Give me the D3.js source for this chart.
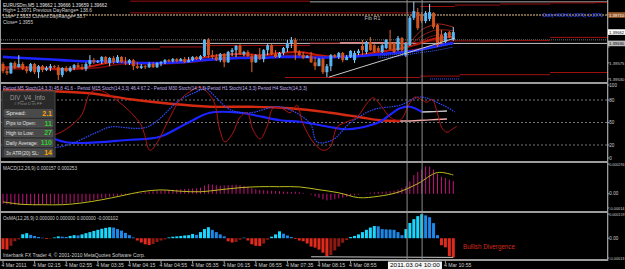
<!DOCTYPE html>
<html>
<head>
<meta charset="utf-8">
<script src="https://cdn.jsdelivr.net/npm/d3@7"></script>
<style>
  html, body { margin: 0; background: #000; overflow: hidden; }
  svg { display: block; }
</style>
</head>
<body>
<div id="chart"></div>
<script>
// ---- price data: pips above 1.3950, one bar every 5 minutes from 01:35 ----
const barOpen = [7.2,5.2,4.6,7.5,6.3,7.2,5.8,5.2,7.2,4.9, 6.6,5.5,6.1,6.6,6.3,4.1,6.1,5.2,6.1,6.9,
  6.3,5.8,7.2,8.3,7.7,8.0,9.2,7.5,8.9,7.7, 9.2,7.7,7.5,8.3,6.6,6.1,6.6,6.3,7.2,6.3,
  7.5,7.7,8.3,8.0,8.6,8.0,8.6,7.7,8.3,9.2, 8.6,9.4,14.0,9.7,9.2,8.3,10.0,7.7,10.6,11.1,
  12.3,10.0,10.6,9.4,7.7,9.7,8.6,11.1,12.5,10.0, 9.2,10.3,11.7,13.1,14.0,10.6,9.7,8.9,9.4,7.7,
  6.6,8.6,4.9,6.6,9.7,9.2,10.3,8.3,9.2,8.3, 10.3,12.3,10.6,13.4,12.5,11.7,10.6,11.7,13.4,13.1,
  11.1,14.5,9.7,12.5,20.2,21.8,21.0,19.3,19.9,21.6, 18.2,15.4,13.4,16.2,14.0];
const barHigh = [7.7,6.1,7.7,8.0,9.7,7.7,6.6,7.5,7.5,6.9, 6.9,6.6,7.2,6.9,6.9,6.3,6.6,6.6,7.2,7.5,
  7.2,7.7,9.7,8.9,8.3,9.4,9.4,9.2,9.4,9.7, 9.4,9.2,8.6,8.6,7.7,7.2,6.9,7.7,7.7,7.7,
  8.0,8.6,8.6,8.9,8.9,8.9,9.2,9.2,9.4,9.4, 9.7,14.2,14.5,11.1,10.0,10.3,10.3,10.9,11.7,12.5,
  12.8,10.9,11.1,10.0,10.0,11.7,11.4,12.8,12.8,11.1, 10.6,12.0,14.0,14.8,14.5,11.1,10.6,9.7,10.6,9.2,
  8.9,8.9,7.2,10.0,10.0,10.6,10.6,9.7,11.1,10.9, 11.4,14.0,13.7,14.8,12.8,12.3,12.8,14.2,16.8,13.4,
  15.1,14.8,13.4,20.7,24.7,23.0,21.8,22.1,24.1,21.8, 18.5,16.8,16.2,16.5,17.6];
const barLow = [4.6,4.1,4.4,5.8,6.3,5.5,4.6,4.9,4.4,3.2, 4.9,5.2,5.2,6.1,2.7,3.5,4.9,4.9,5.5,6.1,
  5.5,5.2,6.6,7.2,7.5,7.2,7.2,6.6,7.2,7.5, 7.5,6.9,6.9,5.5,5.8,5.8,5.8,6.1,6.1,6.1,
  6.6,7.2,7.7,7.7,7.7,8.0,7.5,7.7,8.0,8.3, 8.3,9.2,8.9,8.6,8.0,7.7,6.3,7.5,9.4,9.2,
  9.7,9.4,9.2,4.9,7.5,8.3,7.7,9.7,9.7,8.9, 8.9,9.7,10.6,11.7,8.3,9.4,8.6,8.9,7.5,5.5,
  6.6,4.4,3.5,5.2,8.9,8.6,7.7,8.3,8.9,7.5, 9.7,9.7,10.0,10.9,10.3,10.6,10.3,11.4,11.1,10.3,
  10.9,10.6,9.2,12.3,19.6,16.8,18.7,18.7,19.3,17.1, 12.0,12.8,13.1,14.5,13.7];
const barClose = [5.2,4.6,7.5,6.3,7.2,5.8,5.2,7.2,4.9,6.6, 5.5,6.1,6.6,6.3,4.1,6.1,5.2,6.1,6.9,6.3,
  5.8,7.2,8.3,7.7,8.0,9.2,7.5,8.9,7.7,9.2, 7.7,7.5,8.3,6.6,6.1,6.6,6.3,7.2,6.3,7.5,
  7.7,8.3,8.0,8.6,8.0,8.6,7.7,8.3,9.2,8.6, 9.4,14.0,9.7,9.2,8.3,10.0,7.7,10.6,11.1,12.3,
  10.0,10.6,9.4,7.7,9.7,8.6,11.1,12.5,10.0,9.2, 10.3,11.7,13.1,14.0,10.6,9.7,8.9,9.4,7.7,6.6,
  8.6,4.9,6.6,9.7,9.2,10.3,8.3,9.2,10.9,10.3, 10.9,11.1,13.4,11.1,10.6,10.9,12.5,14.0,11.4,10.6,
  14.5,11.1,13.1,20.2,22.1,17.3,19.3,21.6,21.8,17.6, 12.5,13.4,15.9,14.8,16.2];

const priceTicks = [21.0, 16.5, 12.0, 7.5, 3.0];
const dailyHigh = 21.0;
const bidLevel = 16.2;
const lineLevel = 13.0;

// moving averages on the price panel (sampled every 5 bars)
const maBars = [0,5,10,15,20,25,30,35,40,45,50,55,60,65,70,75,80,85,90,95,100,105,110,114];
const blueMa = [9.2,8.9,8.6,8.3,8.0,8.0,7.7,7.5,7.5,7.7,8.3,8.6,8.9,8.9,9.2,9.2,9.0,9.2,9.4,9.9,10.4,11.1,12.3,13.1];
const redMa = [6.3,6.3,6.1,5.8,6.1,7.2,8.0,7.5,7.5,8.0,8.9,9.7,10.0,9.7,10.3,10.6,9.7,9.2,9.7,10.6,11.4,12.8,14.5,14.8];
const redMaSlow = [5.8,5.8,5.8,5.5,5.8,6.3,7.2,7.2,7.2,7.5,8.0,8.9,9.2,9.4,9.7,9.7,9.4,9.2,9.4,10.0,10.6,11.4,12.5,13.1];
const fanBars = [102,104,106,108,110,112,114];
const redFanA = [12.3,14.5,16.8,17.9,18.5,18.2,17.6];
const redFanB = [12.0,13.4,15.1,16.2,16.8,16.8,16.5];
const redFanC = [11.7,12.5,13.7,14.8,15.4,15.6,15.6];
const blueFanBars = [95,100,105,110,114];
const blueFanA = [9.4,10.0,10.9,12.0,12.8];
const blueFanB = [8.9,9.4,10.3,11.1,12.0];

// pivot style step levels: edges in bars, one level per segment
const topRedEdges = [32.2, 77.7];            const topRedLevels = [24.9];
const topGrayEdges = [77.7, 153];            const topGrayLevels = [24.7];
const r1Edges = [32.2,105.6,114.4,125.8,138.5,149.9,153]; const r1Levels = [21.6,23.4,23.8,24.1,24.4,24.5];
const midEdges = [-1,39.7,51.1,77.7,85.3,100.5,105.6,125.8,138.5,153];
const midLevels = [11.4,12.0,12.4,13.1,13.2,13.2,13.7,13.8,14.7];
const salmonEdges = [85.3, 100.5];           const salmonLevels = [13.2];
const lowEdges = [71.4,105.6,115.7,138.5,153]; const lowLevels = [3.4,3.8,4.2,4.8];
const blueLowEdges = [108.1, 115.7];         const blueLowLevels = [3.0];
const dottedLevel = 14.0;
const trendBars = [82.5, 114.4];
const trendVals = [3.5, 14.5];
const fibBar = 91.5;

// stochastics
const stochM5Bars = [0,5.6,11.9,19.5,22,23.8,26.3,34.7,37.2,39,41.5,44.8,47.3,49.9,53.2,54.9,56.2,58.2,60,61.8,
  63.3,65.1,66.8,68.4,70.6,72.7,74.4,75.9,78.5,81,82.8,84.6,87.1,89.6,92.2,93.7,95.9,98,100.5,103,
  104.3,106.1,107.3,108.6,109.9,111.1,112.4,113.7,114.9];
const stochM5 = [43,56,33,57,89,93,89,49,13,23,49,80,91,97,80,40,24,36,57,63,
  40,28,44,69,69,63,73,49,24,13,17,44,51,57,76,83,71,57,53,76,
  84,80,77,81,64,43,37,41,45];
const stochM15Bars = [0,13.7,23.8,27.1,36.5,44.8,49.9,51.1,57.5,62.5,70.1,77.7,79.5,83.5,87.8,93.7,100.5,105.6,111.4,114.4];
const stochM15 = [27,17,37,44,44,80,93,96,67,63,71,49,24,27,49,67,73,84,73,64];
const stochM30Bars = [0,6.8,15.7,32.2,39.7,46.6,52.4,60,70.1,75.2,82.8,86.6,90.4,95.4,100.5,103,106.1];
const stochM30 = [55,43,24,27,31,49,63,63,53,51,44,41,43,51,69,71,64];
const stochH1Bars = [0,10.6,22,32.2,42.3,52.4,62.5,72.7,82.8,90.4,95.4,100.5];
const stochH1 = [93,92,89,81,75,71,71,69,63,57,53,52];
const stochH4Bars = [100.5,103,108,112.4];
const stochH4 = [52,52,53.5,54.7];
const stochGrayBars = [106.1,109,112.4];
const stochGray = [64,64.5,65.3];
const stochLevels = [80, 50, 20];
const stochTicks = [100, 80, 50, 20, 0];

// MACD (x 1e-6)
const macdHist = [-100,-105,-110,-108,-112,-110,-105,-108,-115,-112,-108,-105,-100,-98,-105,
  -100,-95,-92,-88,-85,-80,-75,-70,-60,-55,-45,
  -40,-30,-25,-20,-15,-12,-5,0,5,10,15,
  20,25,28,30,35,38,40,42,45,48,50,52,55,
  60,80,95,90,85,80,82,85,88,90,85,78,70,
  55,45,38,35,32,30,28,25,22,20,18,20,15,
  8,0,-10,-25,-40,-55,-65,-60,-52,-45,-38,-30,
  -22,-15,-8,0,5,10,15,18,20,22,25,30,
  40,55,75,120,185,215,240,270,268,240,200,168,155,138,125];
const macdSignalBars = [0,5,10,15,20,25,30,35,40,45,50,55,60,65,70,75,80,85,90,95,100,105,110,114];
const macdSignal = [-80,-105,-108,-108,-90,-59,-20,20,38,25,20,40,60,70,70,68,40,10,-38,-25,15,100,210,185];
const macdTicks = [294, 0, -140];

// OsMA (x 1e-6)
const osmaHist = [-72,-75,-50,-20,-8,26,33,22,15,8,
  3,-5,-3,5,12,10,8,15,20,18,
  25,33,40,48,55,62,68,72,70,60,
  50,35,20,5,-15,-28,-40,-45,-38,-25,
  -15,-8,5,10,12,15,18,20,28,22,
  40,60,72,55,40,25,12,-20,-28,-25,
  -10,3,-15,-40,-50,-52,-35,-10,10,25,
  45,30,18,8,-5,-15,-20,-35,-55,-62,
  -75,-95,-118,-110,-80,-55,-30,-12,8,15,
  25,40,55,70,80,78,60,58,57,55,
  40,20,60,100,125,145,158,150,138,99,
  20,-46,-60,-118,-125];
const osmaDivBars = [78, 114];
const osmaDivVals = [-122, -126];
const osmaTicks = [159, 0, -130];

// time axis
const timeBars = [0,8,16,24,32,40,48,56,64,72,80,88,112];
const timeText = ["4 Mar 2011","4 Mar 02:15","4 Mar 02:55","4 Mar 03:35","4 Mar 04:15","4 Mar 04:55",
  "4 Mar 05:35","4 Mar 06:15","4 Mar 06:55","4 Mar 07:35","4 Mar 08:15","4 Mar 08:55","4 Mar 10:55"];
const crossBar = 101;
const crossText = "2011.03.04 10:00";
const vlineBars = [102.3, 106.1];

// info panel
const infoLabels = ["Spread:", "Pips to Open:", "High to Low:", "Daily Average:", "3x ATR(20) SL:"];
const infoValues = ["2.1", "11", "27", "110", "14"];

// ---------------------------------------------------------------
const width = 625, height = 269;
const FONT = "'Liberation Sans', Arial, sans-serif";
const svg = d3.select("#chart").append("svg")
  .attr("width", width).attr("height", height);
svg.append("rect").attr("width", width).attr("height", height).attr("fill", "#000");

const x = d3.scaleLinear().domain([0, 153]).range([3, 607.35]);
const yPrice = d3.scaleLinear().domain([2.7, 21]).range([80, 15]);
const yStoch = d3.scaleLinear().domain([0, 100]).range([160, 85]);
const yMacd = d3.scaleLinear().domain([-170, 294]).range([211, 164]);
const yOsma = d3.scaleLinear().domain([-130, 159]).range([258, 214]);
const fmtPrice = p => (1.395 + p / 10000).toFixed(5);

const defs = svg.append("defs");
function clip(id, y0, y1) {
  defs.append("clipPath").attr("id", id).append("rect")
    .attr("x", 1).attr("y", y0).attr("width", 606).attr("height", y1 - y0);
}
clip("clipMain", 0, 82);
clip("clipStoch", 84, 161);
clip("clipMacd", 163, 211);
clip("clipOsma", 213, 259);

function label(g, px, py, str, o = {}) {
  const t = g.append("text").attr("x", px).attr("y", py).text(str)
    .attr("font-family", FONT).attr("font-size", o.size || 5)
    .attr("fill", o.color || "#cfcfcf");
  if (o.len) t.attr("textLength", o.len).attr("lengthAdjust", "spacingAndGlyphs");
  if (o.bold) t.attr("font-weight", "bold");
  return t;
}

function steps(g, edges, levels, color, w = 1, dash = null) {
  const segs = levels.map((v, k) => ({ a: edges[k], b: edges[k + 1], v }));
  g.append("g").selectAll("line").data(segs).join("line")
    .attr("x1", d => x(d.a)).attr("x2", d => x(d.b))
    .attr("y1", d => yPrice(d.v)).attr("y2", d => yPrice(d.v))
    .attr("stroke", color).attr("stroke-width", w)
    .attr("stroke-dasharray", dash);
}

function series(g, bars, vals, yScale, color, w, dash = null, curve = d3.curveMonotoneX) {
  const line = d3.line().x(d => x(d[0])).y(d => yScale(d[1])).curve(curve);
  g.append("path").datum(bars.map((b, k) => [b, vals[k]]))
    .attr("d", line).attr("fill", "none")
    .attr("stroke", color).attr("stroke-width", w)
    .attr("stroke-dasharray", dash);
}

// ---------------- main price panel ----------------
const main = svg.append("g").attr("clip-path", "url(#clipMain)");
steps(main, [-1, 153], [dailyHigh], "#76654a", 2, "2,1");
steps(main, topRedEdges, topRedLevels, "#9a0f0f");
steps(main, topGrayEdges, topGrayLevels, "#a8a8a8");
steps(main, r1Edges, r1Levels, "#9a1010");
steps(main, [-1, 153], [dottedLevel], "#7c7c7c", 1, "1,1");
steps(main, [-1, 153], [lineLevel], "#c4c4c4");
steps(main, midEdges, midLevels, "#a01010");
steps(main, salmonEdges, salmonLevels, "#f0a0a0");
steps(main, lowEdges, lowLevels, "#a01010");
steps(main, blueLowEdges, blueLowLevels, "#3050ff", 1, "1,1");

series(main, maBars, redMaSlow, yPrice, "#7a0a0a", 1.5);
series(main, maBars, redMa, yPrice, "#c0180c", 2);
series(main, maBars, blueMa, yPrice, "#1c24ff", 2.6);
series(main, blueFanBars, blueFanA, yPrice, "#3a5cff", 1, "1,1");
series(main, blueFanBars, blueFanB, yPrice, "#3a5cff", 1, "1,1");
series(main, fanBars, redFanA, yPrice, "#c83020", 0.8);
series(main, fanBars, redFanB, yPrice, "#b02818", 0.8);
series(main, fanBars, redFanC, yPrice, "#902010", 0.8);

const candles = barClose.map((c, i) => ({ i, o: barOpen[i], h: barHigh[i], l: barLow[i], c }));
main.append("g").selectAll("line").data(candles).join("line")
  .attr("x1", d => x(d.i)).attr("x2", d => x(d.i))
  .attr("y1", d => yPrice(d.h)).attr("y2", d => yPrice(d.l))
  .attr("stroke", d => d.c >= d.o ? "#a8d8ff" : "#e2682a").attr("stroke-width", 1);
main.append("g").selectAll("rect").data(candles).join("rect")
  .attr("x", d => x(d.i) - 1.5).attr("width", 3)
  .attr("y", d => yPrice(Math.max(d.o, d.c)))
  .attr("height", d => Math.max(1, Math.abs(yPrice(d.o) - yPrice(d.c))))
  .attr("fill", d => d.c >= d.o ? "#58b6f4" : "#d0521c");

series(main, trendBars, trendVals, yPrice, "#c8c8c8", 1, null, d3.curveLinear);

label(svg, 3, 6.5, "EURUSDm,M5  1.39662 1.39666 1.39659 1.39662", { len: 104, color: "#e8e8e8" });
label(svg, 3, 12, "High= 1.3971 Previous DayRange= 138.6", { len: 89 });
label(svg, 3, 17.5, "Low= 1.3933 Current DayRange= 38.7", { len: 83 });
label(svg, 3, 23.5, "Close= 1.3955", { len: 30 });
label(svg, x(fibBar), 20, "Fib R1", { len: 16, color: "#bdbdbd" });
label(svg, 543, 17, "Daily HIGH(1.3971)  1.3971", { len: 60, color: "#2f4cff" });

// ---------------- stochastic panel ----------------
const st = svg.append("g").attr("clip-path", "url(#clipStoch)");
st.selectAll("line.lvl").data(stochLevels).join("line")
  .attr("x1", 1).attr("x2", 607)
  .attr("y1", d => yStoch(d)).attr("y2", d => yStoch(d))
  .attr("stroke", "#777").attr("stroke-dasharray", "2,2");
const cr = d3.curveCatmullRom.alpha(0.5);
series(st, stochH1Bars, stochH1, yStoch, "#d42a12", 2.4, null, cr);
series(st, stochH4Bars, stochH4, yStoch, "#f0a8a8", 1.5, null, cr);
series(st, stochM30Bars, stochM30, yStoch, "#1c24ff", 2.2, null, cr);
series(st, stochGrayBars, stochGray, yStoch, "#c8c8c8", 1.4, null, cr);
series(st, stochM15Bars, stochM15, yStoch, "#2f4cff", 1.2, "1.5,1", cr);
series(st, stochM5Bars, stochM5, yStoch, "#b01414", 1, null, cr);

label(svg, 3, 89.5,
  "Period M5 Stoch(14,3,3) 45.8 41.6 - Period M15 Stoch(14,3,3) 46.4 67.2 - Period M30 Stoch(14,3,3)  Period H1 Stoch(14,3,3)  Period H4 Stoch(14,3,3)",
  { len: 304, color: "#c0b0f0" });

// info panel
const info = svg.append("g");
info.append("rect").attr("x", 2).attr("y", 91).attr("width", 53).attr("height", 66)
  .attr("fill", "#2c2c2c").attr("fill-opacity", 0.92).attr("stroke", "#4a4a4a");
label(info, 10, 99.5, "DIV_V4_Info", { size: 7, len: 35, color: "#9a9a9a" });
label(info, 14, 104.5, "# Pivot D in FF", { size: 4, len: 28, color: "#8a8a8a" });
const rowY = d3.scaleBand().domain(d3.range(infoLabels.length)).range([109.5, 156.5]).paddingInner(0.2);
const valColor = ["#ffa500", "#33cc33", "#33cc33", "#33cc33", "#ffa500"];
const labLen = [20, 30, 28, 32, 33];
infoLabels.forEach((t, k) => {
  info.append("rect").attr("x", 4).attr("y", rowY(k)).attr("width", 49).attr("height", rowY.bandwidth())
    .attr("fill", "#4a4a4a").attr("stroke", "#5e5e5e").attr("stroke-width", 0.5).attr("rx", 1);
  label(info, 6, rowY(k) + rowY.bandwidth() - 2, t, { size: 5, len: labLen[k], color: "#e0e0e0" });
  label(info, 52, rowY(k) + rowY.bandwidth() - 1.5, infoValues[k], { size: 7, bold: true, color: valColor[k] })
    .attr("text-anchor", "end");
});

// ---------------- MACD panel ----------------
const mg = svg.append("g").attr("clip-path", "url(#clipMacd)");
mg.append("g").selectAll("line").data(macdHist).join("line")
  .attr("x1", (d, i) => x(i)).attr("x2", (d, i) => x(i))
  .attr("y1", yMacd(0)).attr("y2", d => yMacd(d))
  .attr("stroke", "#c8107e").attr("stroke-width", 1);
series(mg, macdSignalBars, macdSignal, yMacd, "#bcbc1c", 1, null, cr);
label(svg, 3, 169.5, "MACD(12,26,9) 0.000157 0.000253", { len: 74 });

// ---------------- OsMA panel ----------------
const og = svg.append("g").attr("clip-path", "url(#clipOsma)");
const osColor = (d, i) => {
  const prev = i > 0 ? osmaHist[i - 1] : d;
  if (d >= 0) return d >= prev ? "#19d8ff" : "#1e88e8";
  return d <= prev ? "#e02a1c" : "#8c1a12";
};
og.append("g").selectAll("rect").data(osmaHist).join("rect")
  .attr("x", (d, i) => x(i) - 1.5).attr("width", 3)
  .attr("y", d => Math.min(yOsma(0), yOsma(d)))
  .attr("height", d => Math.abs(yOsma(d) - yOsma(0)))
  .attr("fill", osColor);
series(og, osmaDivBars, osmaDivVals, yOsma, "#c8c8c8", 1, null, d3.curveLinear);
label(svg, 3, 219.5, "OsMA(12,26,9) 0.000000 0.000000 0.000000 -0.000102", { len: 115 });
label(svg, 463, 249, "Bullish Divergence", { size: 7, len: 52, color: "#d42a1c" });
label(svg, 3, 257, "Interbank FX Trader 4, \u00a9 2001-2010 MetaQuotes Software Corp.", { len: 142 });

// ---------------- frame ----------------
vlineBars.forEach(b => {
  svg.append("line").attr("x1", x(b)).attr("x2", x(b)).attr("y1", 0).attr("y2", 260)
    .attr("stroke", "#8c8c8c").attr("stroke-width", 1);
});
const frame = svg.append("g").attr("fill", "#9c9c9c");
[82, 161, 211, 259].forEach(yy => frame.append("rect").attr("x", 0).attr("y", yy).attr("width", 607).attr("height", 2));
frame.append("rect").attr("x", 607).attr("y", 0).attr("width", 1.3).attr("height", 261);
frame.append("rect").attr("x", 0).attr("y", 0).attr("width", 1).attr("height", 261);

// ---------------- right axis ----------------
const ax = svg.append("g");
const boxLevels = [dailyHigh, bidLevel, lineLevel];
// font size chosen so the label's natural width fits the 15.5px strip
const emWidth = s => [...s].reduce((a, ch) => a + (ch === "." ? 0.278 : ch === "-" ? 0.333 : 0.556), 0);
function rTicks(vals, yScale, fmt, skip = () => false) {
  vals.forEach(v => {
    const yy = yScale(v);
    ax.append("line").attr("x1", 607).attr("x2", 609.5).attr("y1", yy).attr("y2", yy).attr("stroke", "#9c9c9c");
    if (skip(yy)) return;
    const s = fmt(v);
    const size = Math.min(4.6, 15.2 / emWidth(s));
    label(ax, 609.3, yy + 1.7, s, { size });
  });
}
rTicks(priceTicks, yPrice, fmtPrice,
  yy => boxLevels.some(b => Math.abs(yPrice(b) - yy) < 5.5));
rTicks(stochTicks, v => Math.min(yStoch(v), 158), v => String(v));
rTicks(macdTicks, yMacd, v => v === 0 ? "0.00" : (v * 1e-6).toFixed(v > 0 ? 6 : 5));
rTicks(osmaTicks, yOsma, v => v === 0 ? "0.00" : (v * 1e-6).toFixed(v > 0 ? 6 : 5));

function priceBox(p, fill, color) {
  const yy = yPrice(p);
  const s = fmtPrice(p);
  ax.append("rect").attr("x", 608).attr("y", yy - 2.8).attr("width", 17).attr("height", 5.6).attr("fill", fill);
  label(ax, 609, yy + 1.7, s, { color, size: Math.min(4.6, 15.2 / emWidth(s)) });
}
priceBox(dailyHigh, "#9a5a2a", "#ffffff");
priceBox(lineLevel, "#bdbdbd", "#000000");
priceBox(bidLevel, "#ffffff", "#000000");

// ---------------- time axis ----------------
timeBars.forEach((b, k) => {
  ax.append("line").attr("x1", x(b)).attr("x2", x(b)).attr("y1", 261).attr("y2", 263).attr("stroke", "#9c9c9c");
  label(ax, x(b) - 1.5, 267, timeText[k], { len: timeText[k].length * 2.5 });
});
ax.append("rect").attr("x", x(crossBar) - 14).attr("y", 261.5).attr("width", 54).attr("height", 7.5).attr("fill", "#f4f4f4");
label(ax, x(crossBar) - 12, 267.3, crossText, { len: 50, color: "#000" });
</script>
</body>
</html>
